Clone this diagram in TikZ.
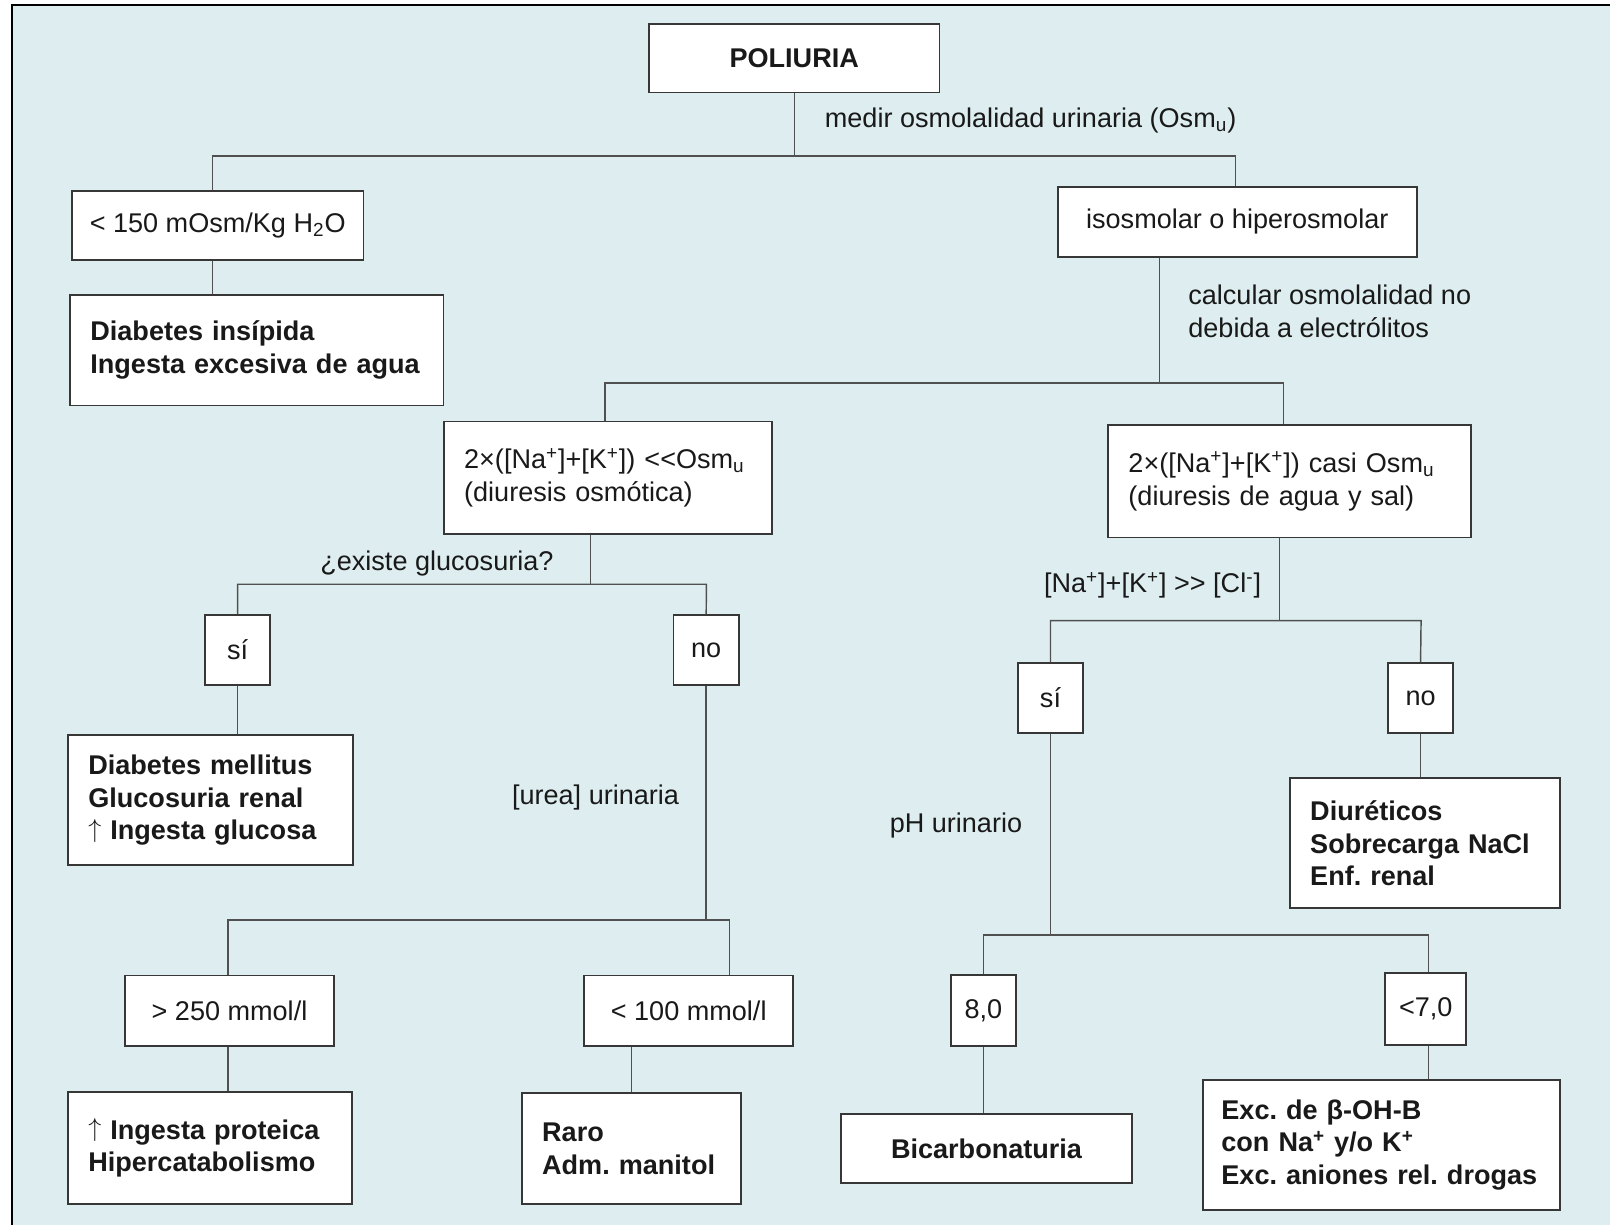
\documentclass[tikz,border=0pt]{standalone}
\usepackage{fontspec}
\setmainfont{Liberation Sans}
\frenchspacing
\newcommand{\boxfont}{\fontsize{15}{18.2}\selectfont}
\newcommand{\uparr}{{\mdseries\raisebox{0.1em}{$\uparrow$}}}
\definecolor{bgcyan}{RGB}{222,238,240}
\definecolor{boxline}{RGB}{55,55,55}
\definecolor{linkgray}{RGB}{80,80,80}
\definecolor{inkdark}{RGB}{25,25,25}
\tikzset{box/.style={
    rectangle,draw=boxline,fill=white,
    line width=1pt,inner sep=0pt,
    text=inkdark,font=\boxfont}
    }
\tikzset{cond/.style={box,align=center},
  dx/.style={box,font=\boxfont\bfseries,align=left,inner xsep=0.40cm},
  calc/.style={box,align=left,inner xsep=0.40cm},
  wh/.style 2 args={minimum width=#1cm,minimum height=#2cm},
  link/.style={draw=linkgray,line width=0.8pt},
  note/.style={inner sep=0pt,text=inkdark,font=\boxfont,align=left},
  frame/.style={draw=black,line width=1.1pt},
}
\begin{document}
\begin{tikzpicture}[x=0.02cm,y=-0.02cm]
    \useasboundingbox (0,0) rectangle (1568,1193);
    \fill[white] (0,0) rectangle (1568,1193);
    \fill[bgcyan] (11.7,4.9) rectangle (1568,1193);
    \draw[frame] (11.7,1193) -- (11.7,4.9) -- (1568,4.9);
    % level 0
    \node (poliuria) [cond,font=\boxfont\bfseries,wh={5.66}{1.34}] at (773.5,56.5) {POLIURIA};
    % level 1
    \node (lt150) [cond,wh={5.68}{1.34}] at (212,219.5) {< 150 mOsm/Kg H\textsubscript{2}O};
    \node (iso) [cond,wh={7.00}{1.36}] at (1205,216) {isosmolar o hiperosmolar};
    \node (di) [dx,text width=6.48cm,minimum height=2.16cm] at (250,341)
      {Diabetes insípida\\Ingesta excesiva de agua};
    % level 2
    \node (osm) [calc,text width=5.60cm,minimum height=2.19cm] at (592,465.3)
      {2×([Na\textsuperscript{+}]+[K\textsuperscript{+}]) <{}<Osm\textsubscript{u}\\(diuresis osmótica)};
    \node (casi) [calc,text width=6.28cm,minimum height=2.19cm] at (1256,468.8)
      {2×([Na\textsuperscript{+}]+[K\textsuperscript{+}]) casi Osm\textsubscript{u}\\(diuresis de agua y sal)};
    % level 3
    \node (si1) [cond,wh={1.26}{1.36}] at (231.5,633) {sí};
    \node (no1) [cond,wh={1.27}{1.36}] at (687.75,633) {no};
    \node (si2) [cond,wh={1.26}{1.36}] at (1023.1,679.9) {sí};
    \node (no2) [cond,wh={1.26}{1.36}] at (1383.5,679.9) {no};
    \node (dm) [dx,text width=4.76cm,minimum height=2.53cm] at (205,779.25)
      {Diabetes mellitus\\Glucosuria renal\\\uparr{} Ingesta glucosa};
    \node (diur) [dx,text width=4.46cm,minimum height=2.53cm] at (1387.5,821.25)
      {Diuréticos\\Sobrecarga NaCl\\Enf. renal};
    % level 4
    \node (gt250) [cond,wh={4.06}{1.38}] at (223.5,984.5) {> 250 mmol/l};
    \node (lt100) [cond,wh={4.07}{1.38}] at (670.75,984.5) {< 100 mmol/l};
    \node (ph8) [cond,wh={1.27}{1.39}] at (957.75,984.3) {8,0};
    \node (ph7) [cond,wh={1.58}{1.40}] at (1388.5,982.9) {<7,0};
    % level 5
    \node (prot) [dx,text width=4.74cm,minimum height=2.18cm] at (204.5,1118)
      {\uparr{} Ingesta proteica\\Hipercatabolismo};
    \node (raro) [dx,text width=3.48cm,minimum height=2.16cm] at (615,1118.6)
      {Raro\\Adm. manitol};
    \node (bic) [cond,font=\boxfont\bfseries,wh={5.67}{1.34}] at (960.8,1118.5) {Bicarbonaturia};
    \node (exc) [dx,inner xsep=0.36cm,text width=6.23cm,minimum height=2.53cm] at (1345.25,1115.1)
      {Exc. de β-OH-B\\con Na\textsuperscript{+} y/o K\textsuperscript{+}\\Exc. aniones rel. drogas};
    % labels on the branches
    \node (m1) [note,anchor=west] at (803,117) {medir osmolalidad urinaria (Osm\textsubscript{u})};
    \node (m2) [note,anchor=west] at (1157,303) {calcular osmolalidad no\\debida a electrólitos};
    \node (m3) [note] at (425.5,548.5) {¿existe glucosuria?};
    \node (m4) [note] at (580,777) {[urea] urinaria};
    \node (m5) [note] at (1122.5,570) {[Na\textsuperscript{+}]+[K\textsuperscript{+}] >{}> [Cl\textsuperscript{-}]};
    \node (m6) [note] at (931,803.5) {pH urinario};
    % forks
    \coordinate (f1) at (774,152);
    \coordinate (f1l) at (207,152);
    \coordinate (f1r) at (1203,152);
    \coordinate (f2) at (1129,373);
    \coordinate (f2l) at (589,373);
    \coordinate (f2r) at (1250,373);
    \coordinate (f3) at (575,569);
    \coordinate (f3r) at (688,569);
    \coordinate (f4l) at (222,896);
    \coordinate (f4r) at (710.5,896);
    \coordinate (f5) at (1246,604.5);
    \coordinate (f5r) at (1384,604.5);
    \coordinate (f6l) at (957.6,910.6);
    \coordinate (f6r) at (1391,910.6);
    % connectors
    \draw[link] (poliuria.south) -- (poliuria.south |- f1);
    \draw[link] (lt150.north -| f1l) -- (f1l) -- (f1r) -- (iso.north -| f1r);
    \draw[link] (lt150.south -| f1l) -- (di.north -| f1l);
    \draw[link] (iso.south -| f2) -- (f2);
    \draw[link] (osm.north -| f2l) -- (f2l) -- (f2r) -- (casi.north -| f2r);
    \draw[link] (osm.south -| f3) -- (f3);
    \draw[link] (si1.north) |- (f3r) -- (no1.north);
    \draw[link] (si1.south) -- (si1.south |- dm.north);
    \draw[link] (no1.south) -- (no1.south |- f4l);
    \draw[link] (gt250.north -| f4l) -- (f4l) -- (f4r) -- (lt100.north -| f4r);
    \draw[link] (gt250.south -| f4l) -- (prot.north -| f4l);
    \draw[link] (lt100.south -| raro.north) -- (raro.north);
    \draw[link] (casi.south -| f5) -- (f5);
    \draw[link] (si2.north) |- (f5r) -- (no2.north);
    \draw[link] (no2.south) -- (no2.south |- diur.north);
    \draw[link] (si2.south) -- (si2.south |- f6l);
    \draw[link] (ph8.north) |- (f6r) -- (ph7.north -| f6r);
    \draw[link] (ph8.south) -- (ph8.south |- bic.north);
    \draw[link] (ph7.south -| f6r) -- (exc.north -| f6r);
\end{tikzpicture}
\end{document}
